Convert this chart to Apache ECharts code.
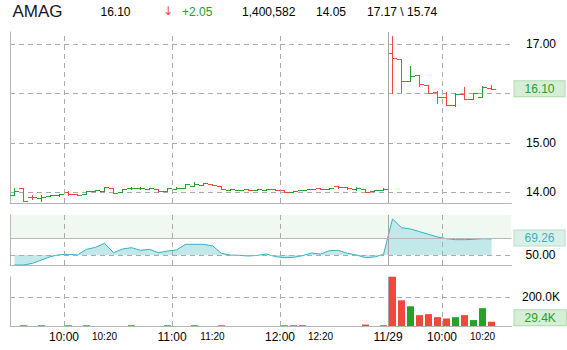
<!DOCTYPE html>
<html>
<head>
<meta charset="utf-8">
<script src="https://cdn.jsdelivr.net/npm/echarts@6/dist/echarts.min.js"></script>
<style>
html,body{margin:0;padding:0;background:#fff;}
#chart{width:567px;height:350px;}
</style>
</head>
<body>
<div id="chart"></div>
<script>
// ---------- data ----------
const symbolName = 'AMAG';
const headerTexts = ['16.10', '\u2193', '+2.05', '1,400,582', '14.05', '17.17 \\ 15.74'];

// 5-minute OHLC bars: 42 bars on the first session, 12 bars on 11/29
const opens  = [13.95,14.09,13.91,13.88,13.92,13.94,14.01,13.96,13.97,14.03,14.03,14.09,14.00,14.08,
                14.08,14.06,14.06,14.02,14.07,14.08,14.13,14.15,14.17,14.12,14.05,14.05,14.06,14.04,
                14.05,14.06,14.04,14.01,14.04,14.06,14.08,14.06,14.12,14.11,14.07,14.06,14.02,14.04,
                16.83,16.71,16.26,16.37,16.18,16.03,15.94,15.77,15.99,15.90,15.94,16.12];
const highs  = [14.09,14.09,13.94,13.94,13.95,13.97,14.02,13.96,14.03,14.04,14.11,14.09,14.06,14.11,
                14.10,14.09,14.06,14.09,14.10,14.17,14.20,14.19,14.17,14.12,14.07,14.05,14.06,14.06,
                14.07,14.06,14.04,14.02,14.05,14.06,14.09,14.09,14.12,14.11,14.10,14.06,14.04,14.09,
                17.17,16.71,16.55,16.37,16.18,16.06,16.03,16.02,16.14,16.02,16.15,16.18];
const lows   = [13.94,13.83,13.86,13.83,13.92,13.93,13.95,13.95,13.96,14.03,14.03,13.99,14.00,14.07,
                14.07,14.06,14.01,14.02,14.06,14.08,14.12,14.15,14.14,14.06,14.04,14.05,14.04,14.04,
                14.04,14.04,14.01,14.01,14.04,14.06,14.06,14.06,14.09,14.06,14.04,14.01,14.02,14.04,
                16.02,16.04,16.26,16.16,16.02,15.80,15.76,15.74,15.90,15.89,15.94,16.09];
const closes = [14.03,13.83,13.90,13.90,13.94,13.96,13.96,13.95,14.03,14.04,14.11,13.99,14.06,14.09,
                14.09,14.09,14.02,14.08,14.08,14.17,14.17,14.18,14.15,14.06,14.06,14.05,14.04,14.06,
                14.06,14.04,14.01,14.02,14.05,14.06,14.07,14.09,14.10,14.08,14.08,14.01,14.04,14.07,
                16.73,16.26,16.35,16.19,16.02,15.94,15.77,16.00,15.90,16.02,16.14,16.10];
const volumes = [0,5000,0,5000,0,0,5000,0,5000,0,0,0,0,5000,
                 0,0,0,5000,0,0,5000,0,0,5000,0,0,0,0,
                 0,0,5000,5000,5000,0,0,0,0,0,0,10000,0,5000,
                 340000,177000,136000,75000,82000,61000,52000,61000,75000,41000,123000,29400];
const rsiValues = [38,38,40,44,48,50.4,50.8,50,56.8,59.2,64,52.8,57.2,58.8,
                   55.6,56.8,52.8,54.8,56,62.8,62.8,62.8,61,52,50,49.6,48.8,49.6,
                   51.2,48,46.8,47.2,49.2,52.4,51.2,55.2,55.6,52,50,46.8,47.6,50.8,
                   93.2,82.8,81.2,78,74.8,71.6,69.6,68.4,68.4,68.8,69.6,69.26];

// x-axis labels (positions are bar-slot indices; big labels sit on slot boundaries,
// small labels on slot centres)
const bigLabelSlots  = [6, 18, 30, 42, 48];
const bigLabelTexts  = ['10:00', '11:00', '12:00', '11/29', '10:00'];
const smallLabelSlots = [10, 22, 34, 52];
const smallLabelTexts = ['10:20', '11:20', '12:20', '10:20'];
const hourGridSlots = [6, 18, 30, 48];
const sessionBreakSlot = 42;

// y-axis settings
const priceRange = [13.783, 17.249];
const rsiRange = [38, 98];
const rsiLevels = [50, 70];
const volumeTick = 200000;

// ---------- build ----------
const FONT = "'Liberation Sans', Arial, sans-serif";
const UP = '#27a02c', DOWN = '#f0483c';
const GRIDC = '#ababab', AXISC = '#b5b5b5';
const SLOTS_SHOWN = 55.72;
const n = closes.length;
const last = n - 1;

const ohlcData = closes.map((c, i) => [i + 0.5, opens[i], highs[i], lows[i], c]);
const rsiData = rsiValues.map((v, i) => [i + 0.5, v]);
const volData = volumes.map((v, i) => ({
  value: [i + 0.5, v],
  itemStyle: { color: closes[i] >= opens[i] ? UP : DOWN }
}));

function verticalLines() {
  const arr = hourGridSlots.map(s => ({ xAxis: s, lineStyle: { type: [5, 4], color: GRIDC, width: 1 } }));
  arr.push({ xAxis: sessionBreakSlot, lineStyle: { type: 'solid', color: '#a5a5a5', width: 1 } });
  return arr;
}

function valueBox(value, text, color, bg, border, offsetY) {
  return {
    yAxis: value,
    lineStyle: { color: 'rgba(0,0,0,0)', width: 0 },
    label: {
      show: true, position: 'end', distance: 3, formatter: text,
      color: color, backgroundColor: bg, borderColor: border, borderWidth: 1,
      padding: [2, 10, 1, 10], fontSize: 12, lineHeight: 12, fontFamily: FONT,
      offset: [0, offsetY || 0]
    }
  };
}

function xLabel(v) {
  const k = Math.round(v * 2);
  if (Math.abs(v * 2 - k) > 1e-6) return '';
  if (k % 2 === 0) {
    const idx = bigLabelSlots.indexOf(k / 2);
    return idx >= 0 ? '{b|' + bigLabelTexts[idx] + '}' : '';
  }
  const idx = smallLabelSlots.indexOf((k - 1) / 2);
  return idx >= 0 ? '{s|' + smallLabelTexts[idx] + '}' : '';
}

const grids = [
  { left: 10, right: 55.5, top: 32, height: 171 },
  { left: 10, right: 55.5, top: 215, height: 50 },
  { left: 10, right: 55.5, top: 276.7, height: 49.3 }
];

const xAxes = [0, 1, 2].map(g => ({
  type: 'value', gridIndex: g, min: 0, max: SLOTS_SHOWN, interval: 0.5,
  axisLine: { show: true, lineStyle: { color: AXISC, width: 1 } },
  axisTick: { show: false },
  splitLine: { show: false },
  axisLabel: g === 2 ? {
    show: true, margin: 5, formatter: xLabel, showMinLabel: true, showMaxLabel: false,
    rich: {
      b: { fontSize: 12, lineHeight: 12, color: '#000', fontFamily: FONT },
      s: { fontSize: 10, lineHeight: 10, color: '#000', fontFamily: FONT }
    }
  } : { show: false }
}));

const yLabelBase = { margin: 29.5, align: 'center', fontSize: 12, color: '#000', fontFamily: FONT,
                     showMinLabel: false, showMaxLabel: false };

const lastClose = closes[last];

const yAxes = [
  {
    type: 'value', gridIndex: 0, position: 'right', min: priceRange[0], max: priceRange[1], splitNumber: 3,
    axisLine: { show: true, lineStyle: { color: AXISC } }, axisTick: { show: false },
    // the tick label hidden behind the last-price box is not drawn
    axisLabel: Object.assign({ formatter: v => (Math.abs(v - lastClose) < 0.2 ? '' : v.toFixed(2)) }, yLabelBase),
    splitLine: { show: true, showMinLine: false, showMaxLine: false, lineStyle: { type: [5, 4], color: GRIDC } }
  },
  {
    type: 'value', gridIndex: 1, position: 'right', min: rsiRange[0], max: rsiRange[1],
    axisLine: { show: true, lineStyle: { color: AXISC } }, axisTick: { show: false },
    axisLabel: { show: false }, splitLine: { show: false }
  },
  {
    type: 'value', gridIndex: 2, position: 'right', min: 0, max: 'dataMax', interval: volumeTick,
    axisLine: { show: true, lineStyle: { color: AXISC } }, axisTick: { show: false },
    axisLabel: Object.assign({ formatter: v => (v / 1000).toFixed(1) + 'K' }, yLabelBase),
    splitLine: { show: true, showMinLine: false, showMaxLine: false, lineStyle: { type: [5, 4], color: GRIDC } }
  }
];

const rsiMarks = verticalLines();
rsiMarks.push({ yAxis: rsiLevels[0], lineStyle: { type: [5, 4], color: GRIDC, width: 1 },
  label: { show: true, position: 'end', distance: 14, formatter: rsiLevels[0].toFixed(2), color: '#000', fontSize: 12, fontFamily: FONT } });
rsiMarks.push({ yAxis: rsiLevels[1], lineStyle: { type: 'solid', color: '#b8b8b8', width: 1 } });
rsiMarks.push(valueBox(rsiValues[last], rsiValues[last].toFixed(2), '#3fb0c2', '#d9f0e6', '#b6dfca', -1));

const priceMarks = verticalLines();
priceMarks.push(valueBox(lastClose, lastClose.toFixed(2), '#25a02a', '#d6eed6', '#aedcae', 0));

const volMarks = verticalLines();
volMarks.push(valueBox(volumes[last], (volumes[last] / 1000).toFixed(1) + 'K', '#25a02a', '#d6eed6', '#aedcae', -4));

const option = {
  animation: false,
  backgroundColor: '#fff',
  textStyle: { fontFamily: FONT },
  grid: grids,
  xAxis: xAxes,
  yAxis: yAxes,
  graphic: [
    { type: 'text', left: 12.5, top: 3, style: { text: symbolName, fontSize: 17, fill: '#15152a', fontFamily: FONT } },
    { type: 'text', left: 100.5, top: 6, style: { text: headerTexts[0], fontSize: 12, fill: '#000', fontFamily: FONT } },
    { type: 'text', left: 163, top: 5, style: { text: headerTexts[1], fontSize: 12, fill: '#f0483c', fontFamily: "'DejaVu Sans', sans-serif" } },
    { type: 'text', left: 182, top: 6, style: { text: headerTexts[2], fontSize: 12, fill: '#22a02a', fontFamily: FONT } },
    { type: 'text', left: 242, top: 6, style: { text: headerTexts[3], fontSize: 12, fill: '#000', fontFamily: FONT } },
    { type: 'text', left: 316, top: 6, style: { text: headerTexts[4], fontSize: 12, fill: '#000', fontFamily: FONT } },
    { type: 'text', left: 367, top: 6, style: { text: headerTexts[5], fontSize: 12, fill: '#000', fontFamily: FONT } }
  ],
  series: [
    {
      type: 'custom', xAxisIndex: 0, yAxisIndex: 0, data: ohlcData,
      encode: { x: 0, y: [1, 2, 3, 4] },
      renderItem: function (params, api) {
        const x = api.value(0), o = api.value(1), h = api.value(2), l = api.value(3), c = api.value(4);
        const pH = api.coord([x, h]), pL = api.coord([x, l]), pO = api.coord([x, o]), pC = api.coord([x, c]);
        const cx = Math.floor(pH[0]) + 0.5;
        const col = c >= o ? UP : DOWN;
        const yo = Math.round(pO[1]) + 0.5, yc = Math.round(pC[1]) + 0.5;
        const yTop = Math.min(Math.round(pH[1]), yo - 0.5, yc - 0.5);
        const yBot = Math.max(Math.round(pL[1]) + 1, yo + 0.5, yc + 0.5);
        return {
          type: 'group',
          children: [
            { type: 'line', shape: { x1: cx, y1: yTop, x2: cx, y2: yBot }, style: { stroke: col, lineWidth: 1 } },
            { type: 'line', shape: { x1: cx - 4.5, y1: yo, x2: cx, y2: yo }, style: { stroke: col, lineWidth: 1 } },
            { type: 'line', shape: { x1: cx, y1: yc, x2: cx + 4.5, y2: yc }, style: { stroke: col, lineWidth: 1 } }
          ]
        };
      },
      markLine: { silent: true, symbol: ['none', 'none'], animation: false, label: { show: false }, data: priceMarks }
    },
    {
      type: 'line', xAxisIndex: 1, yAxisIndex: 1, data: rsiData, showSymbol: false, smooth: false,
      lineStyle: { color: '#35b1c2', width: 1 },
      areaStyle: { color: '#c3e8ea', opacity: 1, origin: rsiLevels[0] },
      markArea: { silent: true, itemStyle: { color: 'rgba(175,220,185,0.2)' },
        data: [[{ yAxis: rsiLevels[1] }, { yAxis: rsiRange[1] }]] },
      markLine: { silent: true, symbol: ['none', 'none'], animation: false, label: { show: false }, data: rsiMarks }
    },
    {
      type: 'bar', xAxisIndex: 2, yAxisIndex: 2, data: volData, barWidth: 7,
      markLine: { silent: true, symbol: ['none', 'none'], animation: false, label: { show: false }, data: volMarks }
    }
  ]
};

const chart = echarts.init(document.getElementById('chart'), null, { renderer: 'svg' });
chart.setOption(option);
</script>
</body>
</html>
